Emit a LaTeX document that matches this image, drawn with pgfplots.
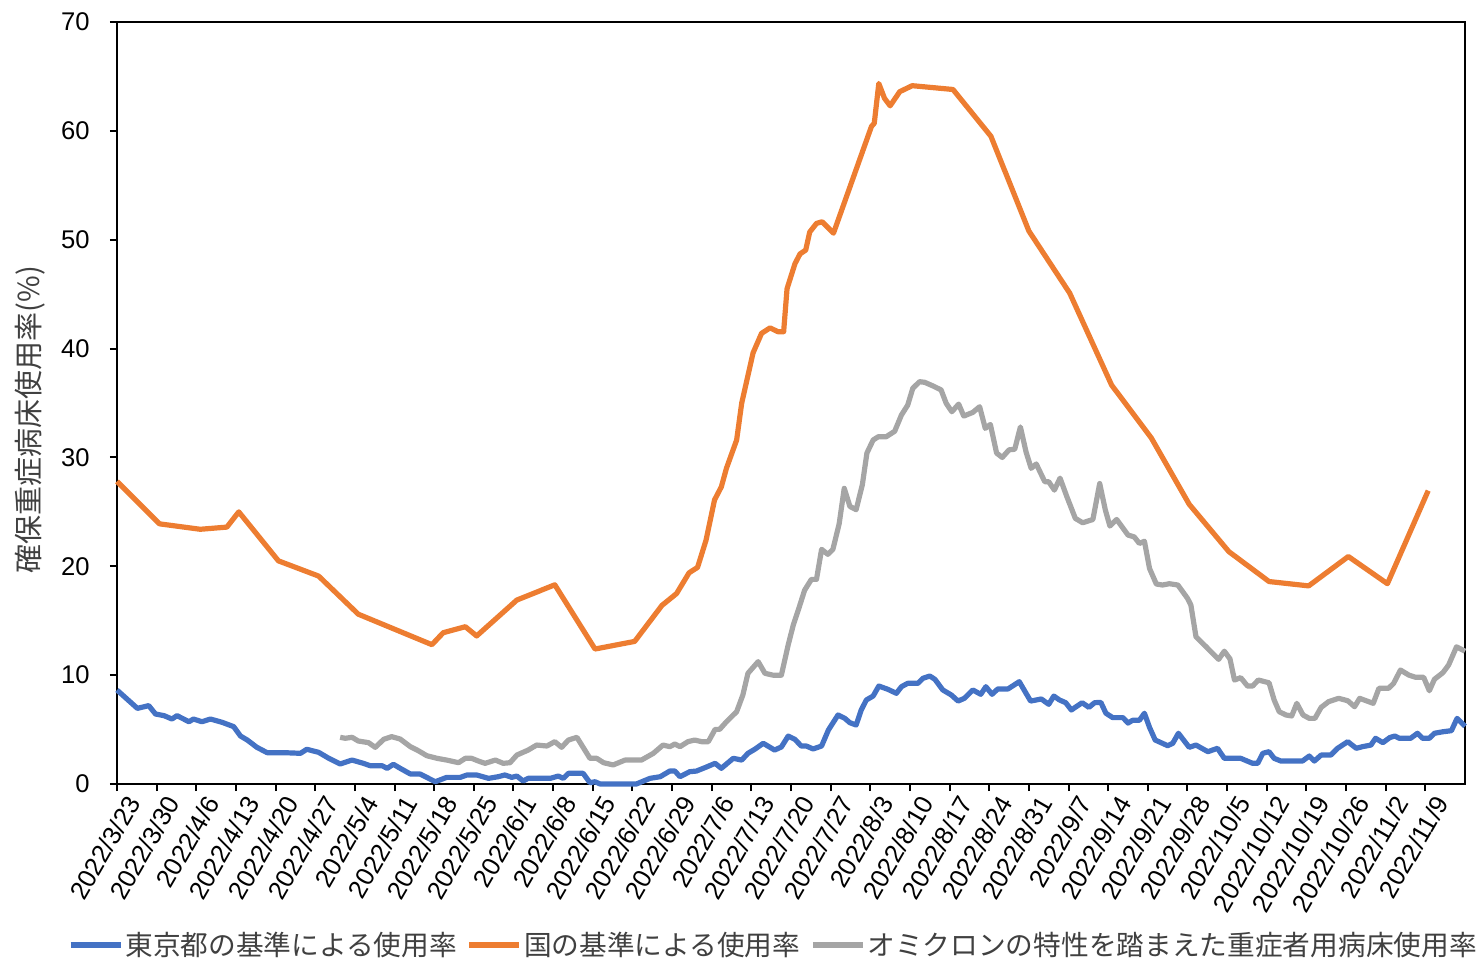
\documentclass[border=0pt]{standalone}
\usepackage{pgfplots}
\pgfplotsset{compat=1.18}
\usepackage{fontspec}
\setmainfont{Liberation Sans}
\newfontfamily\jp{Noto Sans CJK JP}
\definecolor{cblue}{HTML}{4472C4}
\definecolor{corange}{HTML}{ED7D31}
\definecolor{cgray}{HTML}{A5A5A5}
\definecolor{ctext}{HTML}{404040}
\begin{document}
\begin{tikzpicture}
\path[use as bounding box] (-58.5pt,-87.5pt) rectangle (682pt,392pt);
\begin{axis}[
  scale only axis,
  width=674pt, height=381pt,
  at={(0pt,0pt)}, anchor=south west,
  xmin=0, xmax=238, ymin=0, ymax=70,
  clip=false,
  axis line style={black, line width=1pt},
  tick pos=left, tick align=outside,
  major tick length=3.5pt,
  every tick/.style={black, line width=1pt},
  ytick={0,10,...,70},
  xtick={0,7,...,231},
  xticklabels={2022/3/23,2022/3/30,2022/4/6,2022/4/13,2022/4/20,2022/4/27,2022/5/4,2022/5/11,2022/5/18,2022/5/25,2022/6/1,2022/6/8,2022/6/15,2022/6/22,2022/6/29,2022/7/6,2022/7/13,2022/7/20,2022/7/27,2022/8/3,2022/8/10,2022/8/17,2022/8/24,2022/8/31,2022/9/7,2022/9/14,2022/9/21,2022/9/28,2022/10/5,2022/10/12,2022/10/19,2022/10/26,2022/11/2,2022/11/9},
  /pgf/number format/assume math mode=true,
  ticklabel style={font=\fontsize{12.8}{14}\selectfont, text=black},
  xticklabel style={rotate=60, anchor=east, inner sep=2pt, yshift=-9pt, xshift=3pt},
  yticklabel style={inner sep=3pt, xshift=-7pt},
  ylabel={\jp 確保重症病床使用率(\%)},
  ylabel style={at={(axis description cs:-0.0645,0.478)}, anchor=center, rotate=0, font=\fontsize{14.5}{16}\selectfont, text=ctext},
  legend columns=3,
  legend style={at={(axis description cs:0.487,-0.2113)}, anchor=center, draw=none, fill=none,
    font=\jp\fontsize{13.85}{15}\selectfont, text=ctext,
    /tikz/every even column/.append style={column sep=4pt},
    inner sep=0pt, nodes={inner sep=1pt}},
  legend image code/.code={\draw[#1, line width=2.6pt] (0pt,0pt) -- (25pt,0pt);},
  every axis plot/.append style={line width=2.6pt, line join=round, mark=none},
]
\addplot[cblue] coordinates {
(0,8.63)(3.6,6.95)(5.6,7.2)(6.8,6.43)(8.3,6.28)(9.7,5.97)(10.6,6.28)(12.7,5.72)(13.5,5.97)(15,5.72)(16.5,5.97)(18.6,5.66)(20.6,5.27)(21.8,4.41)(23,4.04)(24.7,3.37)(26.5,2.88)(29.4,2.88)(32.4,2.82)(33.5,3.19)(35.6,2.91)(37.4,2.36)(39.4,1.84)(41.5,2.2)(43.5,1.9)(44.7,1.68)(46.8,1.68)(47.7,1.44)(48.8,1.81)(50,1.44)(51.8,0.92)(53.5,0.92)(56.2,0.21)(58.2,0.61)(60.6,0.61)(61.8,0.83)(63.5,0.83)(65.6,0.52)(67.3,0.67)(68.5,0.83)(69.7,0.61)(70.6,0.73)(71.7,0.28)(72.6,0.52)(76.5,0.52)(77.9,0.73)(78.8,0.52)(79.7,0.98)(82.3,0.98)(83.5,0.12)(84.4,0.21)(85.3,0)(91.7,0)(94.1,0.52)(95.9,0.67)(97.6,1.19)(98.5,1.19)(99.4,0.67)(101.1,1.13)(102.3,1.19)(103.8,1.5)(105.6,1.9)(106.7,1.44)(108.8,2.36)(110.3,2.2)(111.4,2.82)(112.6,3.19)(114.1,3.74)(116.1,3.12)(117.3,3.4)(118.5,4.4)(119.7,4.1)(120.8,3.49)(121.7,3.49)(122.9,3.22)(124.4,3.49)(125.6,4.96)(127.3,6.34)(128.5,6.03)(129.4,5.63)(130.5,5.42)(131.4,6.8)(132.3,7.72)(133.5,8.08)(134.5,9.0)(136.1,8.7)(137.6,8.33)(138.5,8.94)(139.6,9.25)(141.4,9.25)(142.3,9.71)(143.5,9.92)(144.4,9.62)(145.8,8.64)(147.3,8.18)(148.5,7.62)(149.6,7.87)(151.1,8.64)(152.5,8.24)(153.4,8.94)(154.5,8.24)(155.5,8.73)(157.3,8.73)(159.3,9.4)(161.3,7.62)(163.2,7.81)(164.5,7.32)(165.4,8.08)(166.4,7.72)(167.5,7.47)(168.5,6.8)(170.4,7.47)(171.6,7.04)(172.6,7.47)(173.7,7.5)(174.6,6.5)(175.8,6.1)(177.6,6.1)(178.5,5.6)(179.3,5.85)(180.5,5.85)(181.4,6.5)(182.3,5.2)(183.3,4.04)(185.5,3.52)(186.4,3.74)(187.4,4.66)(189.3,3.37)(190.5,3.58)(192.6,2.97)(194.3,3.28)(195.5,2.36)(198.4,2.36)(200.5,1.9)(201.4,1.9)(202.3,2.82)(203.4,2.97)(204.3,2.36)(205.5,2.11)(209.3,2.11)(210.5,2.57)(211.4,2.11)(212.6,2.66)(214.3,2.66)(215.5,3.28)(217.3,3.89)(218.8,3.28)(219.9,3.43)(221.4,3.58)(222.2,4.2)(223.5,3.8)(224.7,4.26)(225.6,4.41)(226.4,4.2)(228.4,4.2)(229.6,4.66)(230.5,4.2)(231.7,4.2)(232.6,4.66)(234.1,4.8)(235.6,4.9)(236.6,6.03)(238,5.3)
};
\addlegendentry{東京都の基準による使用率}
\addplot[corange] coordinates {
(0,27.8)(7.5,23.9)(14.7,23.4)(19.4,23.6)(21.5,25.0)(28.5,20.5)(35.6,19.1)(42.6,15.6)(55.6,12.8)(57.6,13.9)(61.5,14.45)(63.5,13.6)(70.6,16.9)(77.3,18.3)(84.4,12.4)(91.4,13.1)(96.2,16.4)(98.8,17.5)(101,19.4)(102.5,19.9)(104,22.4)(105.5,26.1)(106.7,27.3)(107.6,29.0)(109.4,31.6)(110.3,35.0)(112.3,39.6)(113.8,41.4)(115.3,41.9)(116.7,41.55)(117.7,41.55)(118.3,45.5)(119.7,47.8)(120.6,48.7)(121.6,49.05)(122.3,50.7)(123.5,51.5)(124.5,51.65)(126.5,50.6)(133.2,60.4)(133.7,60.7)(134.5,64.35)(135.5,63.0)(136.5,62.3)(138.2,63.6)(140.4,64.15)(147.6,63.8)(154.3,59.5)(161,50.8)(168.2,45.1)(175.6,36.65)(182.6,31.8)(189.3,25.7)(196.3,21.35)(203.4,18.6)(210.4,18.2)(217.4,20.9)(224.3,18.4)(231.5,26.95)
};
\addlegendentry{国の基準による使用率}
\addplot[cgray] coordinates {
(39.4,4.29)(40.3,4.2)(41.5,4.29)(42.6,3.95)(44.4,3.8)(45.6,3.37)(47.1,4.11)(48.5,4.35)(50,4.13)(51.8,3.43)(53.2,3.06)(54.7,2.6)(56.5,2.36)(58.2,2.2)(60.3,1.96)(61.5,2.36)(62.6,2.36)(63.8,2.11)(65,1.9)(66.8,2.2)(68.2,1.9)(69.4,1.96)(70.6,2.66)(72.6,3.12)(74.1,3.58)(75.9,3.49)(77.3,3.89)(78.5,3.37)(79.7,4.04)(81.2,4.29)(83.5,2.36)(84.7,2.36)(85.9,1.96)(87.6,1.75)(89.7,2.2)(92.6,2.2)(94.7,2.82)(96.4,3.58)(97.6,3.43)(98.5,3.67)(99.4,3.43)(100.8,3.89)(102,4.04)(103.2,3.89)(104.4,3.89)(105.6,5.02)(106.4,5.02)(107.6,5.72)(109.4,6.64)(110.5,8.18)(111.4,10.17)(113.2,11.24)(114.4,10.17)(115.8,10.0)(117.3,10.0)(118.5,12.77)(119.4,14.6)(120.3,16.0)(121.4,17.8)(122.6,18.8)(123.5,18.8)(124.4,21.56)(125.5,21.1)(126.4,21.56)(127.5,23.9)(128.4,27.16)(129.4,25.5)(130.5,25.2)(131.6,27.5)(132.4,30.4)(133.5,31.6)(134.4,31.9)(135.8,31.9)(137.3,32.4)(138.5,33.9)(139.6,34.8)(140.5,36.35)(141.7,36.96)(142.6,36.9)(144.1,36.56)(145.5,36.2)(146.4,34.97)(147.4,34.2)(148.6,34.9)(149.5,33.8)(151.1,34.14)(152.3,34.66)(153.3,32.67)(154.2,33.03)(155.3,30.4)(156.3,30.0)(157.5,30.7)(158.5,30.75)(159.5,32.8)(160.5,30.5)(161.4,29.0)(162.3,29.4)(163.8,27.77)(164.5,27.77)(165.5,27.0)(166.5,28.1)(167.7,26.4)(169.2,24.4)(170.5,24.0)(172.3,24.3)(173.5,27.6)(174.5,25.17)(175.3,23.7)(176.5,24.3)(178.5,22.87)(179.6,22.7)(180.5,22.1)(181.4,22.3)(182.3,19.8)(183.5,18.37)(184.6,18.28)(185.8,18.4)(187.3,18.28)(189,17.06)(189.6,16.44)(190.5,13.53)(192.3,12.6)(194.5,11.45)(195.5,12.2)(196.5,11.5)(197.3,9.55)(198.4,9.77)(199.6,9.0)(200.5,9.0)(201.5,9.55)(203.4,9.3)(204.3,7.72)(205.2,6.64)(206.4,6.34)(207.4,6.25)(208.3,7.41)(209.4,6.34)(210.5,6.03)(211.5,6.03)(212.6,7.04)(213.9,7.56)(215.7,7.87)(217.3,7.65)(218.5,7.1)(219.4,7.87)(221.8,7.41)(222.8,8.79)(224.5,8.79)(225.4,9.25)(226.6,10.47)(228.1,10.0)(229.3,9.8)(230.7,9.8)(231.7,8.57)(232.6,9.62)(234.1,10.23)(235.1,10.93)(236.5,12.6)(238,12.2)
};
\addlegendentry{オミクロンの特性を踏まえた重症者用病床使用率}
\end{axis}
\end{tikzpicture}
\end{document}
